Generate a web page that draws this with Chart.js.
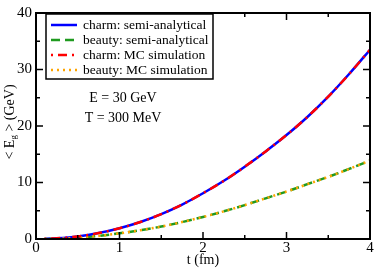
<!DOCTYPE html>
<html>
<head>
<meta charset="utf-8">
<script src="https://cdn.jsdelivr.net/npm/chart.js@4"></script>
<style>
  html, body { margin: 0; padding: 0; background: #fff; }
  #wrap { width: 374px; height: 269px; }
</style>
</head>
<body>
<div id="wrap"><canvas id="chart"></canvas></div>
<script>
const SERIF = "'Liberation Serif', 'Times New Roman', serif";

// t (fm)
const tValues = [0.1, 0.25, 0.5, 0.75, 1, 1.25, 1.5, 1.75, 2, 2.25, 2.5, 2.75, 3, 3.25, 3.5, 3.75, 4];
// <E_g> (GeV)
const charmSemi = [0.02, 0.12, 0.45, 1.05, 1.9, 3.0, 4.4, 6.1, 8.1, 10.3, 12.8, 15.5, 18.4, 21.6, 25.2, 29.2, 33.5];
const beautySemi = [0.01, 0.05, 0.22, 0.55, 1.0, 1.55, 2.2, 3.0, 3.9, 4.9, 6.0, 7.2, 8.4, 9.7, 11.0, 12.4, 13.9];
const charmMC = [0.02, 0.12, 0.45, 1.05, 1.9, 3.0, 4.4, 6.1, 8.1, 10.3, 12.8, 15.5, 18.4, 21.6, 25.2, 29.2, 33.5];
const beautyMC = [0.01, 0.05, 0.22, 0.55, 1.0, 1.55, 2.2, 3.0, 3.9, 4.9, 6.0, 7.2, 8.4, 9.7, 11.0, 12.4, 13.9];

const seriesLabels = [
  "charm: semi-analytical",
  "beauty: semi-analytical",
  "charm: MC simulation",
  "beauty: MC simulation",
];
const seriesColors = ["#0000ff", "#1f9a1f", "#ff0000", "#ffa500"];
const seriesDash = [[], [9, 5], [2, 5, 9, 5], [2, 4]];

const xTicks = [0, 1, 2, 3, 4];
const yTicks = [0, 10, 20, 30, 40];

const toPoints = (ys) => tValues.map((t, i) => ({ x: t, y: ys[i] }));

// frame, inward ticks, legend box, y title and text notes
const decorPlugin = {
  id: "decorPlugin",
  afterDatasetsDraw: (chart) => {
    const {
      ctx,
      chartArea: { left, right, top, bottom },
      scales: { x, y },
    } = chart;
    ctx.save();

    // frame
    ctx.strokeStyle = "#000";
    ctx.lineWidth = 2;
    ctx.setLineDash([]);
    ctx.strokeRect(left, top, right - left, bottom - top);

    // ticks, majors and halves
    ctx.lineWidth = 1.5;
    ctx.beginPath();
    for (let v = 0.5; v < 4; v += 0.5) {
      const px = x.getPixelForValue(v);
      const len = v % 1 === 0 ? 7 : 4;
      ctx.moveTo(px, bottom);
      ctx.lineTo(px, bottom - len);
      ctx.moveTo(px, top);
      ctx.lineTo(px, top + len);
    }
    for (let v = 5; v < 40; v += 5) {
      const py = y.getPixelForValue(v);
      const len = v % 10 === 0 ? 7 : 4;
      ctx.moveTo(left, py);
      ctx.lineTo(left + len, py);
      ctx.moveTo(right, py);
      ctx.lineTo(right - len, py);
    }
    ctx.stroke();

    // legend
    const boxX = 46, boxY = 14, boxW = 167, boxH = 65;
    ctx.fillStyle = "#fff";
    ctx.fillRect(boxX, boxY, boxW, boxH);
    ctx.strokeStyle = "#000";
    ctx.lineWidth = 1.5;
    ctx.strokeRect(boxX, boxY, boxW, boxH);

    ctx.font = `13.5px ${SERIF}`;
    ctx.textAlign = "left";
    ctx.textBaseline = "middle";
    seriesLabels.forEach((label, i) => {
      const rowY = boxY + 11 + i * 15;
      ctx.beginPath();
      ctx.strokeStyle = seriesColors[i];
      ctx.lineWidth = 2.5;
      ctx.setLineDash(seriesDash[i]);
      ctx.moveTo(51, rowY);
      ctx.lineTo(77, rowY);
      ctx.stroke();
      ctx.setLineDash([]);
      ctx.fillStyle = "#000";
      ctx.fillText(label, 83, rowY);
    });

    // notes
    ctx.font = `14px ${SERIF}`;
    ctx.textAlign = "center";
    ctx.fillText("E = 30 GeV", 123, 98);
    ctx.fillText("T = 300 MeV", 123, 118);

    // y title with subscript
    ctx.translate(10, 122);
    ctx.rotate(-Math.PI / 2);
    ctx.textAlign = "left";
    const partA = "< E";
    const partB = " > (GeV)";
    ctx.font = `14px ${SERIF}`;
    const wA = ctx.measureText(partA).width;
    const wB = ctx.measureText(partB).width;
    ctx.font = `9px ${SERIF}`;
    const wSub = ctx.measureText("g").width;
    let cx = -(wA + wSub + wB) / 2;
    ctx.font = `14px ${SERIF}`;
    ctx.fillText(partA, cx, 0);
    cx += wA;
    ctx.font = `9px ${SERIF}`;
    ctx.fillText("g", cx, 4);
    cx += wSub;
    ctx.font = `14px ${SERIF}`;
    ctx.fillText(partB, cx, 0);

    ctx.restore();
  },
};

const seriesData = [charmSemi, beautySemi, charmMC, beautyMC];

new Chart(document.getElementById("chart"), {
  type: "line",
  data: {
    datasets: seriesData.map((ys, i) => ({
      label: seriesLabels[i],
      data: toPoints(ys),
      borderColor: seriesColors[i],
      borderWidth: 2.5,
      borderDash: seriesDash[i],
      pointRadius: 0,
      fill: false,
      cubicInterpolationMode: "monotone",
      order: i < 2 ? 1 : 0,
    })),
  },
  options: {
    responsive: true,
    maintainAspectRatio: false,
    animation: false,
    layout: { padding: { top: 6, right: 4, left: 0, bottom: 0 } },
    plugins: {
      legend: { display: false },
      tooltip: { enabled: false },
    },
    scales: {
      x: {
        type: "linear",
        min: 0,
        max: 4,
        afterBuildTicks: (scale) => {
          scale.ticks = xTicks.map((v) => ({ value: v }));
        },
        afterFit: (scale) => {
          scale.height = 30;
        },
        ticks: {
          color: "#000",
          font: { family: SERIF, size: 15 },
          padding: 0,
          maxRotation: 0,
        },
        grid: { display: false, drawTicks: false },
        border: { display: false },
        title: {
          display: true,
          text: "t (fm)",
          color: "#000",
          font: { family: SERIF, size: 14 },
          padding: { top: 0, bottom: 0 },
        },
      },
      y: {
        type: "linear",
        min: 0,
        max: 40,
        afterBuildTicks: (scale) => {
          scale.ticks = yTicks.map((v) => ({ value: v }));
        },
        afterFit: (scale) => {
          scale.width = 36;
        },
        ticks: {
          color: "#000",
          font: { family: SERIF, size: 15 },
          padding: 4,
        },
        grid: { display: false, drawTicks: false },
        border: { display: false },
      },
    },
  },
  plugins: [decorPlugin],
});
</script>
</body>
</html>
